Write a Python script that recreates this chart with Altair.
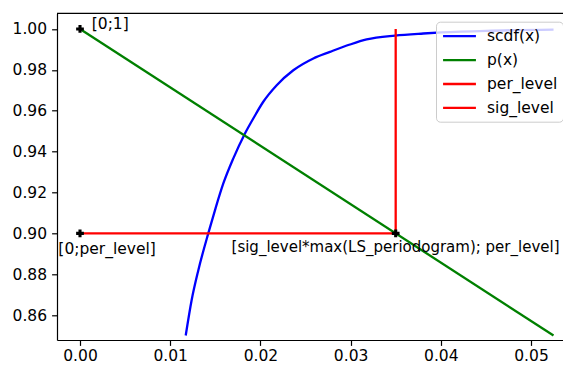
import altair as alt
import pandas as pd

# ---- data ----
scdf_x = [0.01172, 0.01238, 0.01312, 0.01422, 0.01497, 0.01589, 0.01700, 0.01829, 0.01921,
          0.02032, 0.02181, 0.02365, 0.02587, 0.02772, 0.02993, 0.03178, 0.03492, 0.03806,
          0.0401, 0.045, 0.0525]
scdf_y = [0.8500, 0.8674, 0.8820, 0.9000, 0.9114, 0.9244, 0.9367, 0.9489, 0.9562,
          0.9644, 0.9725, 0.9798, 0.9856, 0.9888, 0.9924, 0.9949, 0.9968, 0.9978,
          0.9983, 0.9991, 0.9997]
p_x = [0.0, 0.0525]
p_y = [1.0, 0.85]
per_x = [0.0, 0.035]
per_y = [0.9, 0.9]
sig_x = [0.035, 0.035]
sig_y = [0.9, 1.0]
pts_x = [0.0, 0.0, 0.035]
pts_y = [1.0, 0.9, 0.9]
ann_text = ["[0;1]", "[0;per_level]", "[sig_level*max(LS_periodogram); per_level]"]
ann_x = [0.0013, -0.0024, 0.0168]
ann_y = [1.0, 0.89, 0.891]
ann_fs = [15.5, 15.5, 15.0]
x_ticks = [0.0, 0.01, 0.02, 0.03, 0.04, 0.05]
y_ticks = [0.86, 0.88, 0.90, 0.92, 0.94, 0.96, 0.98, 1.00]
series = ["scdf(x)", "p(x)", "per_level", "sig_level"]
colors = ["blue", "green", "red", "red"]

W, H = 506, 326.7
FONT = "DejaVu Sans"
FS = 15.5


def mk(name, xs, ys):
    return pd.DataFrame({"series": name, "x": xs, "y": ys, "i": range(len(xs))})


xs = alt.Scale(domain=[-0.00255, 0.05355], nice=False, zero=False)
ys = alt.Scale(domain=[0.84782, 1.00768], nice=False, zero=False)
xax = alt.Axis(values=x_ticks, format=".2f", title=None, labelPadding=3.5)
yax = alt.Axis(values=y_ticks, format=".2f", title=None, labelPadding=5)
col = alt.Color("series:N", scale=alt.Scale(domain=series, range=colors),
                legend=alt.Legend(title=None, orient="none", legendX=379, legendY=8.4))


def line_layer(df, interp):
    return alt.Chart(df).mark_line(strokeWidth=2.3, interpolate=interp, clip=True).encode(
        x=alt.X("x:Q", scale=xs, axis=xax),
        y=alt.Y("y:Q", scale=ys, axis=yax),
        color=col,
        order="i:Q",
    )


l1 = line_layer(mk("scdf(x)", scdf_x, scdf_y), "monotone")
l2 = line_layer(mk("p(x)", p_x, p_y), "linear")
l3 = line_layer(mk("per_level", per_x, per_y), "linear")
l4 = line_layer(mk("sig_level", sig_x, sig_y), "linear")

pts = alt.Chart(pd.DataFrame({"x": pts_x, "y": pts_y})).mark_point(
    shape="cross", filled=True, color="black", size=60, opacity=1, clip=True
).encode(x=alt.X("x:Q", scale=xs), y=alt.Y("y:Q", scale=ys))

txt = alt.Chart(pd.DataFrame({"t": ann_text, "x": ann_x, "y": ann_y, "fs": ann_fs})).mark_text(
    align="left", baseline="alphabetic", font=FONT, color="#000000", clip=True
).encode(x=alt.X("x:Q", scale=xs), y=alt.Y("y:Q", scale=ys), text="t:N",
         size=alt.Size("fs:Q", scale=None, legend=None))

top_spine = alt.Chart(pd.DataFrame({"a": [0]})).mark_rule(color="black", strokeWidth=1.2).encode(
    x=alt.value(0), x2=alt.value(W), y=alt.value(0)
)

chart = alt.layer(l1, l2, l3, l4, pts, txt, top_spine).properties(
    width=W, height=H,
    autosize=alt.AutoSizeParams(type="none"),
    padding={"left": 49, "top": 5.3, "right": 0, "bottom": 26},
).configure_view(stroke=None).configure_axis(
    grid=False, domainColor="black", domainWidth=1.2, tickColor="black", tickWidth=1.2,
    tickSize=5.4, labelFont=FONT, labelFontSize=FS, labelColor="black",
).configure_legend(
    labelFont=FONT, labelFontSize=FS, labelColor="black", symbolType="M-2,0H2",
    symbolStrokeWidth=2.3, symbolSize=270, symbolOffset=9, labelOffset=18, padding=5,
    fillColor="rgba(255,255,255,0.8)", strokeColor="#cccccc", cornerRadius=4, rowPadding=5.9,
)

chart.save("out.html", embed_options={"renderer": "svg", "actions": False})
